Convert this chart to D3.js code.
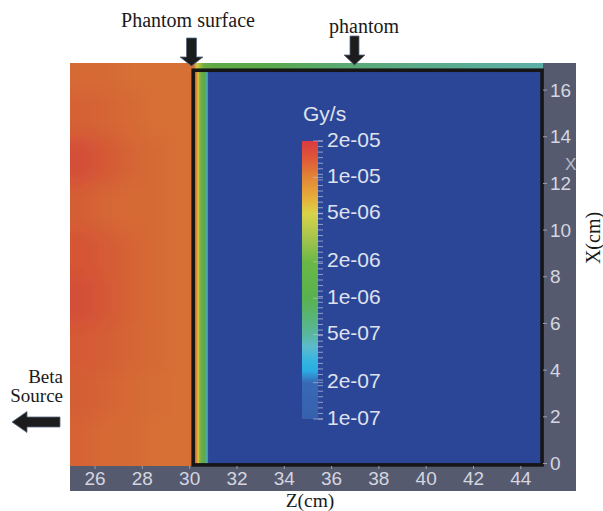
<!DOCTYPE html>
<html><head><meta charset="utf-8">
<script src="https://cdn.jsdelivr.net/npm/d3@7"></script>
<style>html,body{margin:0;padding:0;background:#fff;}svg{display:block;}</style>
</head><body>
<svg id="chart" width="603" height="511"></svg>
<script>
// ---------------- data ----------------
const zDomain = [24.94, 44.94];          // Z (cm) shown
const xDomain = [-0.107, 17.16];         // X (cm) shown
const zTicks = [26, 28, 30, 32, 34, 36, 38, 40, 42, 44];
const xTicks = [0, 2, 4, 6, 8, 10, 12, 14, 16];
const phantomZ = [30.15, 44.9];
const phantomX = [-0.06, 16.85];

// colour bar
const cbDomain = [1e-7, 2e-5];
const cbLabelValues = [2e-5, 1e-5, 5e-6, 2e-6, 1e-6, 5e-7, 2e-7, 1e-7];
const cbLabelTexts = ["2e-05", "1e-05", "5e-06", "2e-06", "1e-06", "5e-07", "2e-07", "1e-07"];

// dose rate in air, in front of the phantom (Gy/s), coarse grid
const airZ = [25.5, 26.5, 27.5, 28.5, 29.5];
const airX = [17, 15, 13, 11, 9, 7, 5, 3, 1];
const airDose = [
  [1.20e-5, 1.20e-5, 1.15e-5, 1.15e-5, 1.15e-5],
  [1.28e-5, 1.25e-5, 1.20e-5, 1.15e-5, 1.15e-5],
  [1.55e-5, 1.38e-5, 1.25e-5, 1.18e-5, 1.15e-5],
  [1.32e-5, 1.24e-5, 1.20e-5, 1.20e-5, 1.15e-5],
  [1.45e-5, 1.36e-5, 1.26e-5, 1.20e-5, 1.15e-5],
  [1.55e-5, 1.40e-5, 1.26e-5, 1.20e-5, 1.15e-5],
  [1.38e-5, 1.32e-5, 1.25e-5, 1.20e-5, 1.15e-5],
  [1.32e-5, 1.26e-5, 1.20e-5, 1.17e-5, 1.15e-5],
  [1.26e-5, 1.20e-5, 1.20e-5, 1.15e-5, 1.15e-5]
];
// depth profile just inside the phantom surface
const profZ = [30.15, 30.27, 30.32, 30.37, 30.42, 30.55, 30.63, 30.70, 30.75, 30.80];
const profDose = [1.2e-5, 1.1e-5, 7e-6, 5e-6, 2.5e-6, 1.5e-6, 9e-7, 5e-7, 2.5e-7, 5e-8];
// thin air layer above the phantom
const stripZ = [30.15, 30.3, 30.6, 31, 33, 36, 40, 44.94];
const stripDose = [1.2e-5, 5e-6, 2e-6, 1.3e-6, 1e-6, 7e-7, 5.5e-7, 4.5e-7];

// ---------------- colour map (style) ----------------
const cmapDose = [1e-7, 2e-7, 2.5e-7, 3e-7, 4e-7, 5e-7, 7e-7, 1e-6, 2e-6, 3e-6, 5e-6, 7e-6, 1e-5, 1.4e-5, 2e-5];
const cmapColor = ["#3762ae", "#3a6cb8", "#2ab4e8", "#34bce6", "#62c4d0", "#5cbfa0", "#5cbd74", "#5cba48",
  "#70c040", "#a8cc48", "#e6de42", "#f5b232", "#f08a30", "#ec5c30", "#e8383a"];
const belowColor = "#2b4697";
const colorScale = d3.scaleLog().domain(cmapDose).range(cmapColor).interpolate(d3.interpolateRgb).clamp(true);
const fieldColor = v => v < cbDomain[0] ? belowColor : d3.interpolateRgb(colorScale(v), "#504050")(0.15);

// ---------------- layout ----------------
const svg = d3.select("#chart");
const plot = {left: 70, right: 543, top: 63, bottom: 466};
const xS = d3.scaleLinear().domain(zDomain).range([plot.left, plot.right]);
const yS = d3.scaleLinear().domain(xDomain).range([plot.bottom, plot.top]);
const defs = svg.append("defs");

// grey axis frame
svg.append("rect").attr("x", 70).attr("y", 63).attr("width", 506).attr("height", 428).attr("fill", "#565a6e");

// clip for field
defs.append("clipPath").attr("id", "plotClip").append("rect")
  .attr("x", plot.left).attr("y", plot.top).attr("width", plot.right - plot.left).attr("height", plot.bottom - plot.top);

const field = svg.append("g").attr("clip-path", "url(#plotClip)");
// phantom interior
field.append("rect").attr("x", xS(phantomZ[0])).attr("y", plot.top)
  .attr("width", plot.right - xS(phantomZ[0])).attr("height", plot.bottom - plot.top).attr("fill", belowColor);

// air region (blurred coarse grid)
defs.append("clipPath").attr("id", "airClip").append("rect")
  .attr("x", plot.left).attr("y", plot.top).attr("width", xS(phantomZ[0]) - plot.left + 1).attr("height", plot.bottom - plot.top);
const blur = defs.append("filter").attr("id", "blur").attr("filterUnits", "userSpaceOnUse")
  .attr("x", 0).attr("y", 0).attr("width", 603).attr("height", 511);
blur.append("feGaussianBlur").attr("stdDeviation", 9);
const air = field.append("g").attr("clip-path", "url(#airClip)").append("g").attr("filter", "url(#blur)");
const airCells = [];
airX.forEach((xc, i) => airZ.forEach((zc, j) => {
  let z0 = zc - 0.5, z1 = zc + 0.5, x0 = xc - 1, x1 = xc + 1;
  if (j === 0) z0 -= 3; if (j === airZ.length - 1) z1 += 2;
  if (i === 0) x1 += 3; if (i === airX.length - 1) x0 -= 3;
  airCells.push({z0, z1, x0, x1, v: airDose[i][j]});
}));
air.selectAll("rect").data(airCells).join("rect")
  .attr("x", d => xS(d.z0)).attr("y", d => yS(d.x1))
  .attr("width", d => xS(d.z1) - xS(d.z0) + 0.5).attr("height", d => yS(d.x0) - yS(d.x1) + 0.5)
  .attr("fill", d => fieldColor(d.v));

// surface profile gradient
function hGrad(id, zs, vs, z0, z1) {
  const g = defs.append("linearGradient").attr("id", id).attr("gradientUnits", "userSpaceOnUse")
    .attr("x1", xS(z0)).attr("x2", xS(z1)).attr("y1", 0).attr("y2", 0);
  zs.forEach((z, i) => g.append("stop").attr("offset", (z - z0) / (z1 - z0)).attr("stop-color", fieldColor(vs[i])));
}
hGrad("profGrad", profZ, profDose, profZ[0], profZ[profZ.length - 1]);
field.append("rect").attr("x", xS(profZ[0])).attr("y", yS(phantomX[1]))
  .attr("width", xS(profZ[profZ.length - 1]) - xS(profZ[0])).attr("height", yS(xDomain[0]) - yS(phantomX[1]))
  .attr("fill", "url(#profGrad)");
hGrad("stripGrad", stripZ, stripDose, stripZ[0], stripZ[stripZ.length - 1]);
field.append("rect").attr("x", xS(stripZ[0])).attr("y", plot.top)
  .attr("width", plot.right - xS(stripZ[0])).attr("height", yS(phantomX[1]) - plot.top)
  .attr("fill", "url(#stripGrad)");

// phantom outline
svg.append("rect").attr("x", xS(phantomZ[0])).attr("y", yS(phantomX[1]))
  .attr("width", xS(phantomZ[1]) - xS(phantomZ[0])).attr("height", yS(phantomX[0]) - yS(phantomX[1]))
  .attr("fill", "none").attr("stroke", "#161616").attr("stroke-width", 3.6);

// axes (ParaView style)
const tickCol = "#d4d6e0";
const gx = svg.append("g");
zTicks.forEach(t => {
  gx.append("line").attr("x1", xS(t)).attr("x2", xS(t)).attr("y1", plot.bottom).attr("y2", plot.bottom + 3)
    .attr("stroke", "#9a9db0").attr("stroke-width", 1);
  gx.append("text").attr("x", xS(t)).attr("y", 478).attr("text-anchor", "middle").attr("dominant-baseline", "central")
    .attr("font-family", "Liberation Sans, Arial, sans-serif").attr("font-size", 19).attr("fill", tickCol).text(t);
});
const gy = svg.append("g");
xTicks.forEach(t => {
  gy.append("line").attr("x1", plot.right).attr("x2", plot.right + 4).attr("y1", yS(t)).attr("y2", yS(t))
    .attr("stroke", "#9a9db0").attr("stroke-width", 1);
  gy.append("text").attr("x", 550).attr("y", yS(t)).attr("dominant-baseline", "central")
    .attr("font-family", "Liberation Sans, Arial, sans-serif").attr("font-size", 19).attr("fill", tickCol).text(t);
});
svg.append("text").attr("x", 565).attr("y", 170).attr("font-family", "Liberation Sans, Arial, sans-serif")
  .attr("font-size", 17).attr("fill", "#b8bbc8").text("X");

// colour bar
const cb = {x: 302, w: 16, top: 141, bottom: 419};
const cbS = d3.scaleLog().domain(cbDomain).range([cb.bottom, cb.top]);
const cbg = defs.append("linearGradient").attr("id", "cbGrad").attr("gradientUnits", "userSpaceOnUse")
  .attr("x1", 0).attr("x2", 0).attr("y1", cb.bottom).attr("y2", cb.top);
cmapDose.forEach((v, i) => cbg.append("stop").attr("offset", (cb.bottom - cbS(v)) / (cb.bottom - cb.top)).attr("stop-color", cmapColor[i]));
svg.append("rect").attr("x", cb.x).attr("y", cb.top).attr("width", cb.w).attr("height", cb.bottom - cb.top)
  .attr("fill", "url(#cbGrad)").attr("opacity", 0.93);
d3.range(0, 51).forEach(i => {
  const y = cb.top + i * (cb.bottom - cb.top) / 50;
  svg.append("line").attr("x1", cb.x + cb.w).attr("x2", cb.x + cb.w + 5).attr("y1", y).attr("y2", y)
    .attr("stroke", "#aab4d8").attr("stroke-width", 1).attr("opacity", 0.8);
});
cbLabelValues.forEach((v, i) => {
  svg.append("line").attr("x1", cb.x + cb.w - 5).attr("x2", cb.x + cb.w + 5).attr("y1", cbS(v)).attr("y2", cbS(v))
    .attr("stroke", "#c0c8e0").attr("stroke-width", 1).attr("opacity", 0.6);
  svg.append("text").attr("x", 327).attr("y", cbS(v) - 2).attr("dominant-baseline", "central")
    .attr("font-family", "Liberation Sans, Arial, sans-serif").attr("font-size", 21).attr("fill", "#dfe2ec")
    .text(cbLabelTexts[i]);
});
svg.append("text").attr("x", 303).attr("y", 121).attr("font-family", "Liberation Sans, Arial, sans-serif")
  .attr("font-size", 21).attr("fill", "#dfe2ec").text("Gy/s");

// annotations
const serif = "Liberation Serif, Times New Roman, serif";
svg.append("text").attr("x", 188).attr("y", 27).attr("text-anchor", "middle").attr("font-family", serif)
  .attr("font-size", 20).attr("fill", "#1a1a1a").text("Phantom surface");
svg.append("text").attr("x", 364).attr("y", 33).attr("text-anchor", "middle").attr("font-family", serif)
  .attr("font-size", 20).attr("fill", "#1a1a1a").text("phantom");
svg.append("text").attr("x", 63).attr("y", 383).attr("text-anchor", "end").attr("font-family", serif)
  .attr("font-size", 19).attr("fill", "#1a1a1a").text("Beta");
svg.append("text").attr("x", 63).attr("y", 402).attr("text-anchor", "end").attr("font-family", serif)
  .attr("font-size", 19).attr("fill", "#1a1a1a").text("Source");
svg.append("text").attr("x", 310).attr("y", 507).attr("text-anchor", "middle").attr("font-family", serif)
  .attr("font-size", 19.5).attr("fill", "#1a1a1a").text("Z(cm)");
svg.append("text").attr("transform", "translate(600,238) rotate(-90)").attr("text-anchor", "middle")
  .attr("font-family", serif).attr("font-size", 20).attr("fill", "#1a1a1a").text("X(cm)");

// arrows
function downArrow(cx, y0, yh, y1, sw, hw) {
  const p = d3.path();
  p.moveTo(cx - sw / 2, y0); p.lineTo(cx + sw / 2, y0); p.lineTo(cx + sw / 2, yh); p.lineTo(cx + hw / 2, yh);
  p.lineTo(cx, y1); p.lineTo(cx - hw / 2, yh); p.lineTo(cx - sw / 2, yh); p.closePath();
  svg.append("path").attr("d", p.toString()).attr("fill", "#1c1c1c").attr("stroke", "#5a6a80").attr("stroke-width", 0.8);
}
downArrow(191.5, 38, 57, 66, 10, 23);
downArrow(354.5, 36, 55, 65, 9, 21);
(function () {
  const p = d3.path(), cy = 422;
  p.moveTo(60, cy - 5); p.lineTo(27, cy - 5); p.lineTo(27, cy - 10.5); p.lineTo(12, cy); p.lineTo(27, cy + 10.5);
  p.lineTo(27, cy + 5); p.lineTo(60, cy + 5); p.closePath();
  svg.append("path").attr("d", p.toString()).attr("fill", "#1c1c1c").attr("stroke", "#5a6a80").attr("stroke-width", 0.8);
})();
</script>
</body></html>
